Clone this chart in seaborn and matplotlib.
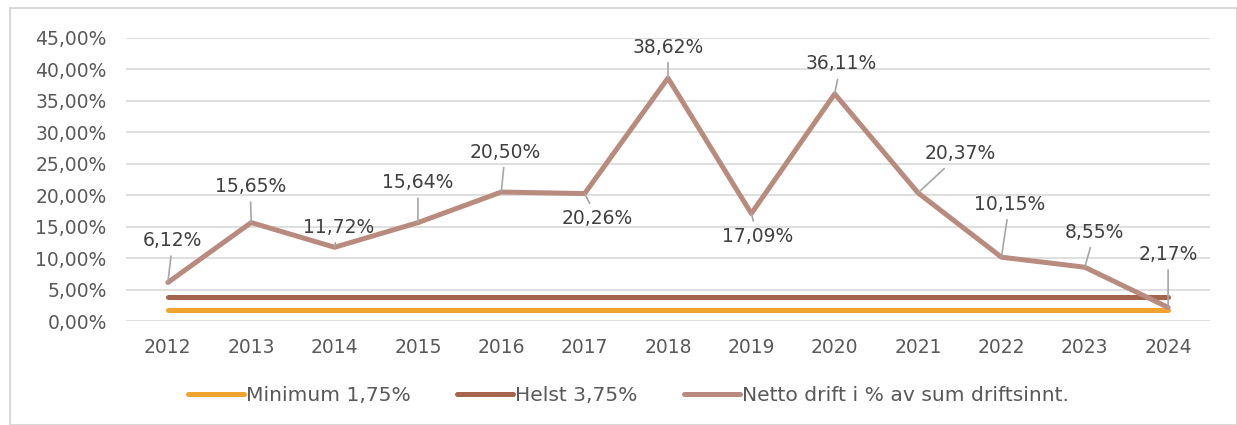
import seaborn as sns
import pandas as pd
import numpy as np
import matplotlib.pyplot as plt
from matplotlib.ticker import FuncFormatter, MultipleLocator
from matplotlib.patches import Rectangle

years = ['2012', '2013', '2014', '2015', '2016', '2017', '2018',
         '2019', '2020', '2021', '2022', '2023', '2024']
netto = [6.12, 15.65, 11.72, 15.64, 20.50, 20.26, 38.62,
         17.09, 36.11, 20.37, 10.15, 8.55, 2.17]
minimum = 1.75
helst = 3.75

# label offsets in pixels (dx, dy) from each point
label_offsets = [(5, 42), (-1, 36), (4, 20), (0, 40), (4, 40), (13, -25), (0, 31),
                 (6, -23), (6, 30), (42, 39), (8, 53), (10, 35), (0, 53)]

df = pd.DataFrame({
    'year': years,
    'Minimum 1,75%': np.full(len(years), minimum),
    'Helst 3,75%': np.full(len(years), helst),
    'Netto drift i % av sum driftsinnt.': netto,
})

sns.set_style('white')
plt.rcParams['font.family'] = ['DejaVu Sans']

fig = plt.figure(figsize=(12.37, 4.25), dpi=100)
ax = fig.add_axes([0.102, 0.2447, 0.876, 0.666])

colors = {'Minimum 1,75%': '#F0A32F',
          'Helst 3,75%': '#A5644C',
          'Netto drift i % av sum driftsinnt.': '#B98B7E'}
for col, c in colors.items():
    sns.lineplot(data=df, x='year', y=col, ax=ax, color=c, lw=3.6,
                 label=col, sort=False, solid_capstyle='round')

ax.set_ylim(0, 45)
ax.set_xlim(-0.5, len(years) - 0.5)
ax.yaxis.set_major_locator(MultipleLocator(5))
ax.yaxis.set_major_formatter(FuncFormatter(lambda v, p: f'{v:.2f}%'.replace('.', ',')))
ax.grid(axis='y', color='#D9D9D9', lw=1.2)
ax.set_axisbelow(True)
for s in ax.spines.values():
    s.set_visible(False)
ax.tick_params(axis='both', length=0, labelsize=13.5, colors='#595959')
ax.tick_params(axis='y', pad=14)
ax.tick_params(axis='x', pad=12)
ax.set_xlabel('')
ax.set_ylabel('')

for i, (v, (dx, dy)) in enumerate(zip(netto, label_offsets)):
    ax.annotate(f'{v:.2f}%'.replace('.', ','), xy=(i, v), xytext=(dx, dy),
                textcoords='offset pixels', ha='center', va='center',
                fontsize=13.5, color='#404040',
                arrowprops=dict(arrowstyle='-', color='#A6A6A6', lw=1.2,
                                shrinkA=2, shrinkB=0))

ax.get_legend().remove()
handles, labels = ax.get_legend_handles_labels()
fig.legend(handles, labels, loc='center', bbox_to_anchor=(0.508, 0.07), ncol=3,
           frameon=False, fontsize=14.6, handlelength=2.75, handletextpad=0.1,
           columnspacing=2.3, labelcolor='#595959')

fig.patches.append(Rectangle((10 / 1237, 0), 1 - 10 / 1237, 1 - 8 / 425,
                             transform=fig.transFigure, fill=False,
                             edgecolor='#D9D9D9', lw=1.5))

fig.savefig('out.png', dpi=100)
